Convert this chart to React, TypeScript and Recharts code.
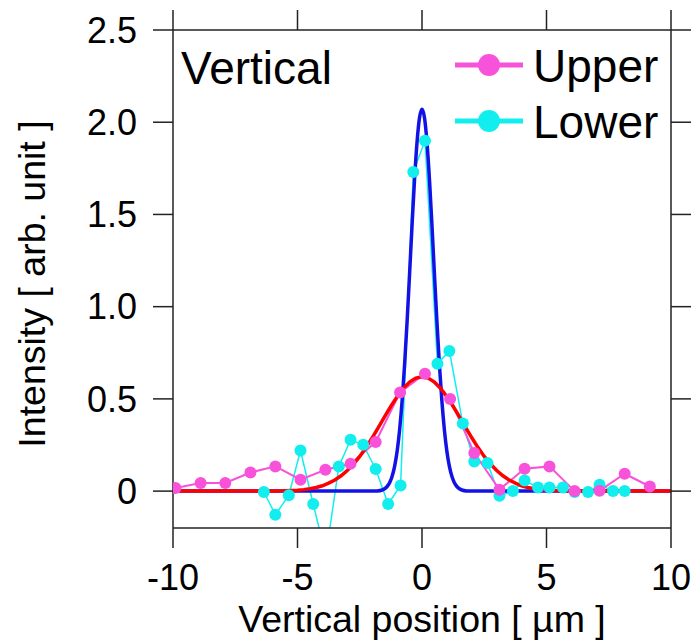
import React from 'react';
import { LineChart, Line, XAxis, YAxis, Legend, Customized } from 'recharts';

const upperX = [-9.9, -8.89, -7.9, -6.89, -5.89, -4.88, -3.88, -2.87, -1.86, -0.88, 0.12, 1.13, 2.1, 3.11, 4.12, 5.12, 6.13, 7.13, 8.14, 9.15];
const upperY = [0.017, 0.044, 0.044, 0.101, 0.134, 0.062, 0.116, 0.148, 0.266, 0.535, 0.636, 0.499, 0.206, 0.008, 0.121, 0.134, 0.0, 0.002, 0.094, 0.025];

const lowerX = [-6.35, -5.89, -5.35, -4.88, -4.37, -3.86, -3.34, -2.87, -2.36, -1.86, -1.36, -0.86, -0.35, 0.12, 0.62, 1.1, 1.64, 2.1, 2.63, 3.11, 3.65, 4.12, 4.66, 5.12, 5.66, 6.13, 6.67, 7.13, 7.67, 8.14];
const lowerY = [-0.005, -0.128, -0.023, 0.22, -0.07, -0.35, 0.134, 0.278, 0.251, 0.12, -0.07, 0.031, 1.73, 1.9, 0.69, 0.76, 0.366, 0.16, 0.153, -0.025, 0.0, 0.057, 0.02, 0.02, 0.02, -0.005, -0.005, 0.035, 0.0, 0.0];

const blueX = [-10, -3, -2, -1.8, -1.6, -1.5, -1.4, -1.3, -1.2, -1.1, -1.0, -0.9, -0.8, -0.7, -0.6, -0.5, -0.4, -0.3, -0.2, -0.1, 0, 0.1, 0.2, 0.3, 0.4, 0.5, 0.6, 0.7, 0.8, 0.9, 1.0, 1.1, 1.2, 1.3, 1.4, 1.5, 1.6, 1.8, 2, 3, 10];
const blueY = [0, 0, 0, 0.001, 0.006, 0.013, 0.025, 0.045, 0.08, 0.134, 0.215, 0.331, 0.486, 0.683, 0.916, 1.175, 1.441, 1.689, 1.891, 2.024, 2.07, 2.024, 1.891, 1.689, 1.441, 1.175, 0.916, 0.683, 0.486, 0.331, 0.215, 0.134, 0.08, 0.045, 0.025, 0.013, 0.006, 0.001, 0, 0, 0];

const redX = [-10, -7, -6, -5.5, -5, -4.75, -4.5, -4.25, -4, -3.75, -3.5, -3.25, -3, -2.75, -2.5, -2.25, -2, -1.75, -1.5, -1.25, -1, -0.75, -0.5, -0.25, 0, 0.25, 0.5, 0.75, 1, 1.25, 1.5, 1.75, 2, 2.25, 2.5, 2.75, 3, 3.25, 3.5, 3.75, 4, 4.25, 4.5, 4.75, 5, 5.5, 6, 7, 10];
const redY = [0, 0, 0.001, 0.002, 0.005, 0.008, 0.013, 0.02, 0.029, 0.043, 0.06, 0.083, 0.112, 0.147, 0.188, 0.236, 0.289, 0.346, 0.404, 0.46, 0.512, 0.557, 0.591, 0.613, 0.62, 0.613, 0.591, 0.557, 0.512, 0.46, 0.404, 0.346, 0.289, 0.236, 0.188, 0.147, 0.112, 0.083, 0.06, 0.043, 0.029, 0.02, 0.013, 0.008, 0.005, 0.002, 0.001, 0, 0];

const xTicks = [-10, -5, 0, 5, 10];
const yTicks = [0, 0.5, 1.0, 1.5, 2.0, 2.5];

const seriesNames = ['Upper', 'Lower'];
const titleText = 'Vertical';
const xTitle = 'Vertical position [ µm ]';
const yTitle = 'Intensity [ arb. unit ]';

const toPts = (xs: number[], ys: number[]) => xs.map((x, i) => ({ x, y: ys[i] }));
const upperData = toPts(upperX, upperY);
const lowerData = toPts(lowerX, lowerY);
const blueData = toPts(blueX, blueY);
const redData = toPts(redX, redY);

const FONT = '"Liberation Sans", Arial, sans-serif';
const MAGENTA = '#F852DA';
const CYAN = '#12EEEE';
const BLUE = '#1212E6';
const RED = '#FF0000';
const AXIS = '#222';

const LegendContent = () => {
  const items = [
    { name: seriesNames[0], color: MAGENTA },
    { name: seriesNames[1], color: CYAN },
  ];
  return (
    <svg width={230} height={130} style={{ display: 'block' }}>
      {items.map((it, i) => {
        const cy = 35 + i * 56;
        return (
          <g key={it.name}>
            <line x1={15} x2={83} y1={cy} y2={cy} stroke={it.color} strokeWidth={5} />
            <circle cx={49} cy={cy} r={11} fill={it.color} />
            <text x={93} y={cy + 17} fontSize={46} fontFamily={FONT} fill="#000">{it.name}</text>
          </g>
        );
      })}
    </svg>
  );
};

const TitleText = () => (
  <text x={181} y={84} fontSize={46} fontFamily={FONT} fill="#000">{titleText}</text>
);

const YTitle = () => (
  <text
    transform="translate(45,284) rotate(-90)"
    textAnchor="middle"
    fontSize={37.5}
    fontFamily={FONT}
    fill="#000"
  >
    {yTitle}
  </text>
);

const fmtY = (v: number) => (v === 0 ? '0' : v.toFixed(1));

export default function App() {
  return (
    <div style={{ position: 'absolute', left: 0, top: 0, background: '#fff' }}>
      <LineChart width={695} height={642} margin={{ top: 0, right: 0, bottom: 0, left: 0 }}>
        <XAxis
          xAxisId="b"
          dataKey="x"
          type="number"
          domain={[-10, 10]}
          ticks={xTicks}
          allowDataOverflow
          orientation="bottom"
          height={114}
          tickSize={20}
          tickMargin={16}
          stroke={AXIS}
          strokeWidth={1.5}
          tick={{ fontSize: 36, fontFamily: FONT, fill: '#000' }}
          label={{ value: xTitle, position: 'insideBottom', offset: 10, fontSize: 37.5, fontFamily: FONT, fill: '#000' }}
        />
        <XAxis
          xAxisId="t"
          dataKey="x"
          type="number"
          domain={[-10, 10]}
          ticks={xTicks}
          allowDataOverflow
          orientation="top"
          height={30}
          tickSize={20}
          stroke={AXIS}
          strokeWidth={1.5}
          tickFormatter={() => ''}
        />
        <YAxis
          yAxisId="l"
          type="number"
          domain={[-0.2, 2.5]}
          ticks={yTicks}
          allowDataOverflow
          orientation="left"
          width={173}
          tickSize={20}
          tickMargin={16}
          stroke={AXIS}
          strokeWidth={1.5}
          tickFormatter={fmtY}
          tick={{ fontSize: 36, fontFamily: FONT, fill: '#000' }}
        />
        <YAxis
          yAxisId="r"
          type="number"
          domain={[-0.2, 2.5]}
          ticks={yTicks}
          allowDataOverflow
          orientation="right"
          width={24}
          tickSize={20}
          stroke={AXIS}
          strokeWidth={1.5}
          tickFormatter={() => ''}
        />
        <Line xAxisId="b" yAxisId="l" data={lowerData} dataKey="y" name={seriesNames[1]} type="linear"
          stroke={CYAN} strokeWidth={1.5} dot={{ r: 6, fill: CYAN, stroke: 'none' }} isAnimationActive={false} />
        <Line xAxisId="b" yAxisId="l" data={upperData} dataKey="y" name={seriesNames[0]} type="linear"
          stroke={MAGENTA} strokeWidth={2} dot={{ r: 6, fill: MAGENTA, stroke: 'none' }} isAnimationActive={false} />
        <Line xAxisId="b" yAxisId="l" data={blueData} dataKey="y" name="fitA" type="monotone" legendType="none"
          stroke={BLUE} strokeWidth={3.5} dot={false} isAnimationActive={false} />
        <Line xAxisId="b" yAxisId="l" data={redData} dataKey="y" name="fitB" type="linear" legendType="none"
          stroke={RED} strokeWidth={3.5} dot={false} isAnimationActive={false} />
        <Legend
          layout="horizontal"
          verticalAlign="middle"
          align="center"
          content={<LegendContent />}
          wrapperStyle={{ left: 440, top: 30, width: 230, height: 130 }}
        />
        <Customized component={<TitleText />} />
        <Customized component={<YTitle />} />
      </LineChart>
    </div>
  );
}
